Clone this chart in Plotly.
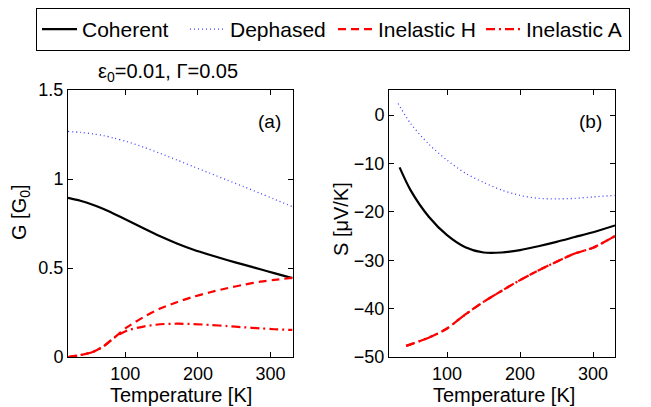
import plotly.graph_objects as go

# ---- Panel (a): conductance G [G0] vs temperature ----
T_a = [21, 38, 56, 70, 84, 102, 125, 148, 171, 194, 217, 240, 263, 286, 305, 330]
G_coherent = [0.894, 0.878, 0.854, 0.831, 0.805, 0.770, 0.723, 0.678, 0.638, 0.603, 0.573, 0.545, 0.519, 0.493, 0.471, 0.443]
G_dephased = [1.267, 1.262, 1.253, 1.244, 1.230, 1.210, 1.179, 1.144, 1.107, 1.069, 1.032, 0.994, 0.957, 0.919, 0.887, 0.845]
G_inel_H = [0.0, 0.011, 0.030, 0.060, 0.106, 0.166, 0.224, 0.272, 0.308, 0.339, 0.364, 0.386, 0.406, 0.423, 0.433, 0.445]
G_inel_A = [0.0, 0.011, 0.030, 0.060, 0.106, 0.148, 0.171, 0.184, 0.187, 0.185, 0.180, 0.174, 0.167, 0.161, 0.156, 0.152]

# ---- Panel (b): thermopower S [uV/K] vs temperature ----
T_b_deph = [33, 50, 75, 100, 125, 150, 175, 200, 225, 250, 275, 300, 330]
S_dephased = [2.4, -1.7, -6.0, -9.3, -12.0, -13.9, -15.5, -16.6, -17.2, -17.3, -17.2, -16.9, -16.6]
T_b_coh = [35, 50, 75, 100, 125, 150, 175, 200, 225, 250, 275, 300, 330]
S_coherent = [-10.8, -15.5, -21.0, -24.8, -27.3, -28.4, -28.4, -27.9, -27.1, -26.2, -25.2, -24.2, -22.8]
T_b_inel = [44, 75, 100, 125, 150, 175, 200, 225, 250, 275, 300, 330]
S_inel_H = [-47.7, -46.0, -44.1, -41.2, -38.6, -36.3, -34.1, -32.1, -30.3, -28.6, -27.4, -25.0]
S_inel_A = [-47.7, -46.0, -44.1, -41.2, -38.6, -36.3, -34.1, -32.1, -30.3, -28.6, -27.4, -25.0]

names = ["Coherent", "Dephased", "Inelastic H", "Inelastic A"]
colors = ["black", "#4040ff", "#ff0000", "#ff0000"]
widths = [2.2, 1.3, 2.2, 2.2]
dashes = ["solid", "1px,3px", "8px,5px", "9px,4px,2px,4px"]

FONT = "Liberation Sans, Arial, Helvetica, sans-serif"

fig = go.Figure()

series_a = [G_coherent, G_dephased, G_inel_H, G_inel_A]
for i in range(4):
    fig.add_trace(go.Scatter(
        x=T_a, y=series_a[i], mode="lines", name=names[i],
        line=dict(color=colors[i], width=widths[i], dash=dashes[i], shape="spline", smoothing=0.8),
        xaxis="x", yaxis="y", showlegend=True))

series_b = [(T_b_coh, S_coherent), (T_b_deph, S_dephased), (T_b_inel, S_inel_H), (T_b_inel, S_inel_A)]
for i in range(4):
    tx, sy = series_b[i]
    fig.add_trace(go.Scatter(
        x=tx, y=sy, mode="lines", name=names[i],
        line=dict(color=colors[i], width=widths[i], dash=dashes[i], shape="spline", smoothing=0.8),
        xaxis="x2", yaxis="y2", showlegend=False))

W, H = 651, 407
axis_common = dict(
    showline=True, linecolor="black", linewidth=1, mirror="ticks",
    ticks="inside", ticklen=5, tickcolor="black", tickwidth=1,
    showgrid=False, zeroline=False,
    tickfont=dict(family=FONT, size=18, color="black"),
)

fig.update_layout(
    width=W, height=H,
    margin=dict(l=0, r=0, t=0, b=0, autoexpand=False),
    paper_bgcolor="white", plot_bgcolor="white",
    font=dict(family=FONT, color="black"),
    xaxis=dict(domain=[68 / W, 293 / W], range=[21, 331], tickvals=[100, 200, 300], anchor="y", **axis_common),
    yaxis=dict(domain=[1 - 357 / H, 1 - 90 / H], range=[0, 1.5], tickvals=[0, 0.5, 1, 1.5],
               ticktext=["0", "0.5", "1", "1.5"], anchor="x", **axis_common),
    xaxis2=dict(domain=[389 / W, 615 / W], range=[20.5, 330], tickvals=[100, 200, 300], anchor="y2", **axis_common),
    yaxis2=dict(domain=[1 - 357 / H, 1 - 90 / H], range=[-50, 5.2], tickvals=[-50, -40, -30, -20, -10, 0],
                anchor="x2", **axis_common),
    legend=dict(
        orientation="h", x=36 / W, y=1 - 8 / H, xanchor="left", yanchor="top",
        bordercolor="black", borderwidth=1, bgcolor="white",
        font=dict(family=FONT, size=21, color="black"),
        entrywidth=98, entrywidthmode="pixels",
        itemwidth=35,
    ),
)

def ann(text, x, y, size=20, angle=0):
    return dict(text=text, x=x / W, y=1 - y / H, xref="paper", yref="paper", showarrow=False,
                xanchor="center", yanchor="middle", textangle=angle,
                font=dict(family=FONT, size=size, color="black"))

annotations = [
    ann("ε<sub>0</sub>=0.01, Γ=0.05", 168, 72, 20),
    ann("(a)", 269, 122, 19),
    ann("(b)", 590, 122, 19),
    ann("Temperature [K]", 181, 395, 20),
    ann("Temperature [K]", 504, 395, 20),
    ann("G [G<sub>0</sub>]", 20, 212, 20, -90),
    ann("S [μV/K]", 341, 219, 20, -90),
]
fig.update_layout(annotations=annotations)

fig.write_html("out.html")
